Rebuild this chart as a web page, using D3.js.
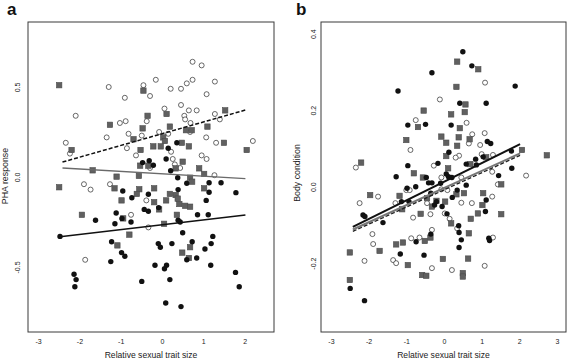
<!DOCTYPE html>
<html><head><meta charset="utf-8">
<script src="https://cdn.jsdelivr.net/npm/d3@7"></script>
<style>
body{margin:0;background:#fff;}
svg{display:block;font-family:"Liberation Sans",Arial,sans-serif;}
</style></head>
<body><svg id="c" width="567" height="360"></svg>
<script>
// ---------- Panel a : PHA response ----------
const aOpenX = [0.74,0.96,-0.15,-0.45,-1.29,0.21,0.46,0.60,0.74,1.28,-0.29,1.08,-0.90,-2.09,-1.02,-0.88,-0.37,0.06,0.46,0.65,0.84,0.54,0.56,1.28,1.40,0.69,-0.81,-1.34,-0.49,-0.07,0.15,0.68,1.07,1.31,2.20,-2.33,-2.23,-0.85,-0.63,0.22,0.96,1.08,0.26,0.31,-0.29,0.44,1.27,-1.89,-1.73,-1.26,-0.38,-0.75,-0.33,-1.86];
const aOpenY = [0.64,0.62,0.54,0.51,0.50,0.49,0.49,0.52,0.54,0.53,0.45,0.46,0.44,0.34,0.30,0.31,0.31,0.38,0.40,0.37,0.37,0.34,0.32,0.35,0.32,0.30,0.24,0.22,0.23,0.25,0.24,0.25,0.22,0.19,0.20,0.19,0.13,0.16,0.12,0.14,0.12,0.10,0.10,0.07,0.05,0.05,0.01,-0.04,-0.07,-0.04,-0.13,-0.21,-0.28,-0.46];
const aSquareX = [-2.49,-0.45,-0.35,0.11,1.53,-1.26,-0.47,0.19,0.58,0.72,1.10,-0.69,0.03,0.07,0.48,1.50,-2.19,-0.21,-0.03,0.65,2.05,-0.52,0.50,-0.53,-0.33,0.90,0.33,-1.68,-1.10,-0.56,1.02,0.68,-2.49,-1.15,-0.98,-0.55,-0.61,-0.19,-0.19,-0.07,0.10,0.19,0.33,0.38,0.42,0.56,0.68,1.02,-1.94,-0.94,0.36,0.05,-0.79,-1.08,0.49,0.68,0.65,0.73];
const aSquareY = [0.51,0.48,0.34,0.35,0.37,0.29,0.27,0.28,0.26,0.26,0.28,0.21,0.22,0.20,0.19,0.19,0.15,0.17,0.17,0.17,0.15,0.15,0.085,0.063,0.063,0.048,0.048,0.037,0.002,0.006,0.017,-0.004,-0.057,-0.063,-0.13,-0.068,-0.094,-0.063,-0.14,-0.18,-0.13,-0.094,-0.10,-0.12,-0.15,-0.16,-0.165,-0.063,-0.21,-0.23,-0.21,-0.26,-0.32,-0.38,-0.42,-0.39,-0.45,-0.026];
const aFilledX = [0.36,0.15,0.10,-0.47,-0.31,-0.21,0.21,0.38,-2.47,-0.95,-0.73,-0.33,-0.43,-0.33,-1.11,-1.14,-1.61,-0.75,0.39,0.44,0.86,1.12,0.60,1.14,1.43,1.14,1.07,1.79,-1.22,-0.98,-0.90,-1.24,-0.09,-0.04,0.24,0.50,0.73,1.23,1.19,1.04,-0.17,0.06,0.11,0.60,0.84,1.18,-2.13,-2.08,-2.11,-0.49,0.19,1.78,1.87,0.09,0.46,0.39,-0.97,-0.08];
const aFilledY = [0.19,0.16,0.10,0.08,0.09,0.065,0.035,-0.004,-0.33,-0.078,-0.115,-0.096,-0.18,-0.19,-0.20,-0.26,-0.24,-0.25,-0.24,-0.25,-0.21,-0.21,-0.035,-0.032,-0.032,-0.085,-0.13,-0.087,-0.36,-0.42,-0.44,-0.47,-0.37,-0.39,-0.37,-0.31,-0.36,-0.33,-0.37,-0.40,-0.49,-0.51,-0.49,-0.46,-0.45,-0.49,-0.54,-0.57,-0.61,-0.58,-0.57,-0.53,-0.61,-0.70,-0.72,-0.07,-0.23,-0.17];
// fitted lines: [x0, y0, x1, y1]
const aLineOpen = [-2.41, 0.083, 2.02, 0.372];
const aLineSquare = [-2.41, 0.050, 2.02, -0.009];
const aLineFilled = [-2.47, -0.332, 2.02, -0.211];
const aXTicks = [-3,-2,-1,0,1,2];
const aYTicks = [-0.5,0,0.5];

// ---------- Panel b : Body condition ----------
const bOpenX = [1.09,-0.11,-0.75,0.60,0.75,1.08,0.66,-0.89,0.96,0.40,0.31,1.00,1.30,-0.27,-2.34,-0.07,0.46,1.28,2.18,-2.24,-1.75,-1.29,-1.00,-0.91,-0.82,-0.36,-0.45,0.02,0.15,0.46,0.74,1.28,1.43,-1.90,-1.88,-0.87,-0.65,-0.32,0.35,-1.35,-1.27,-2.11,-0.32,0.21,1.08,1.30,0.09,-0.07];
const bOpenY = [0.272,0.228,0.174,0.167,0.137,0.140,0.113,0.096,0.109,0.081,0.076,0.085,0.083,0.055,0.050,0.024,0.024,0.039,0.029,-0.043,-0.026,-0.043,-0.009,-0.009,-0.081,-0.072,-0.043,-0.070,-0.084,-0.042,-0.043,-0.026,0.006,-0.124,-0.150,-0.135,-0.133,-0.113,-0.109,-0.192,-0.200,-0.194,-0.213,-0.218,-0.207,-0.133,-0.009,-0.007];
const bSquareX = [0.35,0.91,0.33,0.57,-0.54,0.19,0.55,-0.69,0.42,-0.07,0.39,0.68,-1.00,0.06,0.35,0.06,0.11,-2.20,-0.80,-0.56,0.70,1.12,2.07,2.73,-1.96,-1.18,-1.11,-0.62,-0.45,-0.32,-0.20,0.03,0.19,0.33,0.53,0.71,1.04,1.02,0.90,1.52,1.52,-2.50,-2.50,-1.71,-1.27,-1.09,-0.96,-0.51,-0.36,-0.58,-0.47,-0.03,0.64,0.66,0.50,0.50];
const bSquareY = [0.327,0.307,0.261,0.215,0.199,0.189,0.195,0.156,0.153,0.131,0.129,0.124,0.122,0.115,0.107,0.080,0.048,0.063,0.035,0.024,0.059,0.077,0.096,0.082,-0.022,-0.024,-0.059,-0.071,-0.030,-0.052,-0.037,-0.039,-0.096,-0.020,-0.017,-0.084,-0.017,-0.048,-0.070,0.006,-0.072,-0.172,-0.244,-0.168,-0.151,-0.146,-0.205,-0.142,-0.133,-0.231,-0.233,-0.189,-0.188,-0.122,-0.226,-0.235];
const bFilledX = [0.50,0.74,-0.32,-1.22,1.89,0.42,1.12,-0.96,-0.49,0.19,1.15,1.24,0.13,0.84,1.04,0.59,-0.16,-0.96,1.79,1.80,1.45,-1.27,-0.47,0.06,0.12,0.21,0.86,-0.98,-0.75,-0.41,-0.32,-0.09,0.59,-2.15,-2.10,-1.62,-1.13,-0.93,-0.35,-0.20,-0.25,-0.05,0.08,0.22,0.35,0.39,0.40,0.46,0.40,-0.74,-1.16,-0.53,1.19,1.21,1.10,1.12,-2.49,-2.11,-0.35];
const bFilledY = [0.353,0.316,0.298,0.250,0.263,0.218,0.218,0.161,0.163,0.161,0.118,0.113,0.090,0.072,0.078,0.059,0.061,0.055,0.093,0.048,0.029,0.026,0.024,0.033,0.026,0.024,0.057,-0.004,0.000,0.010,0.010,0.009,0.004,-0.074,-0.078,-0.094,-0.039,-0.039,-0.017,-0.039,-0.048,-0.052,-0.071,-0.028,-0.009,-0.102,-0.120,-0.139,-0.159,-0.144,-0.176,-0.179,-0.135,-0.141,-0.065,-0.035,-0.266,-0.298,-0.124];
const bLineFilled = [-2.42, -0.105, 2.02, 0.111];
const bLineSquare = [-2.42, -0.112, 2.02, 0.087];
const bLineOpen = [-2.42, -0.117, 2.02, 0.082];
const bXTicks = [-3,-2,-1,0,1,2,3];
const bYTicks = [-0.2,0,0.2,0.4];

const svg = d3.select("#c");
const zip = (xs, ys) => xs.map((x,i)=>[x, ys[i]]);

function panel(o){
  const x = d3.scaleLinear().domain(o.xDomain).range([o.left, o.right]);
  const y = d3.scaleLinear().domain(o.yDomain).range([o.bottom, o.top]);
  const g = svg.append("g");
  // points
  g.selectAll("circle.open").data(zip(o.openX,o.openY)).join("circle")
    .attr("cx",d=>x(d[0])).attr("cy",d=>y(d[1])).attr("r",2.5)
    .attr("fill","#fff").attr("stroke","#2a2a2a").attr("stroke-width",0.7);
  const s = 5.4;
  g.selectAll("rect.sq").data(zip(o.sqX,o.sqY)).join("rect")
    .attr("x",d=>x(d[0])-s/2).attr("y",d=>y(d[1])-s/2).attr("width",s).attr("height",s)
    .attr("fill","#606060").attr("stroke","#4a4a4a").attr("stroke-width",0.6);
  g.selectAll("circle.fill").data(zip(o.fillX,o.fillY)).join("circle")
    .attr("cx",d=>x(d[0])).attr("cy",d=>y(d[1])).attr("r",2.7)
    .attr("fill","#111");
  const line = (L, stroke, w, dash) => g.append("line")
    .attr("x1",x(L[0])).attr("y1",y(L[1])).attr("x2",x(L[2])).attr("y2",y(L[3]))
    .attr("stroke",stroke).attr("stroke-width",w).attr("stroke-dasharray",dash||null);
  o.lines.forEach(l=>line(...l));
  // box
  g.append("rect").attr("x",o.left).attr("y",o.top).attr("width",o.right-o.left).attr("height",o.bottom-o.top)
    .attr("fill","none").attr("stroke","#3a3a3a").attr("stroke-width",1);
  // x axis
  const fmtX = d => d<0 ? "-"+Math.abs(d) : String(d);
  const ax = g.append("g").attr("transform",`translate(0,${o.bottom})`)
    .call(d3.axisBottom(x).tickValues(o.xTicks).tickSize(0).tickPadding(7).tickFormat(fmtX));
  ax.select(".domain").remove();
  ax.selectAll("text").attr("font-size",7).attr("fill","#222").attr("font-family","Liberation Sans, Arial, sans-serif");
  // y axis (rotated labels)
  const fmtY = d => (d<0?"-":"") + Math.abs(d).toFixed(1);
  const ay = g.append("g").attr("transform",`translate(${o.left},0)`)
    .call(d3.axisLeft(y).tickValues(o.yTicks).tickSize(0).tickFormat(fmtY));
  ay.select(".domain").remove();
  ay.selectAll("text").attr("transform","rotate(-90)").attr("x",0).attr("y",-o.yLabOff).attr("dy",0)
    .attr("text-anchor","middle").attr("font-size",7).attr("fill","#222").attr("font-family","Liberation Sans, Arial, sans-serif");
  // titles
  g.append("text").attr("x",(o.left+o.right)/2).attr("y",358).attr("text-anchor","middle")
    .attr("font-size",8.6).attr("fill","#222").text("Relative sexual trait size");
  g.append("text").attr("transform",`translate(${o.yTitleX},${o.yTitleY}) rotate(-90)`).attr("text-anchor","middle")
    .attr("font-size",8.8).attr("fill","#222").text(o.yTitle);
  g.append("text").attr("x",o.letterX).attr("y",15).attr("font-size",17).attr("font-weight","bold")
    .attr("fill","#111").text(o.letter);
}

panel({
  left:28, right:274, top:22, bottom:332,
  xDomain:[-3.245,2.712], yDomain:[-0.861,0.861],
  openX:aOpenX, openY:aOpenY, sqX:aSquareX, sqY:aSquareY, fillX:aFilledX, fillY:aFilledY,
  lines:[[aLineSquare,"#6a6a6a",1.4],[aLineFilled,"#111",1.5],[aLineOpen,"#111",1.5,"4,2"]],
  xTicks:aXTicks, yTicks:aYTicks, yLabOff:8,
  yTitle:"PHA response", yTitleX:8, yTitleY:176, letter:"a", letterX:7
});
panel({
  left:321, right:566, top:22, bottom:332,
  xDomain:[-3.265,3.239], yDomain:[-0.380,0.4306],
  openX:bOpenX, openY:bOpenY, sqX:bSquareX, sqY:bSquareY, fillX:bFilledX, fillY:bFilledY,
  lines:[[bLineFilled,"#111",2],[bLineSquare,"#777",2],[bLineOpen,"#222",1.3,"4,2"]],
  xTicks:bXTicks, yTicks:bYTicks, yLabOff:5.5,
  yTitle:"Body condition", yTitleX:300, yTitleY:173, letter:"b", letterX:296
});
</script></body></html>
